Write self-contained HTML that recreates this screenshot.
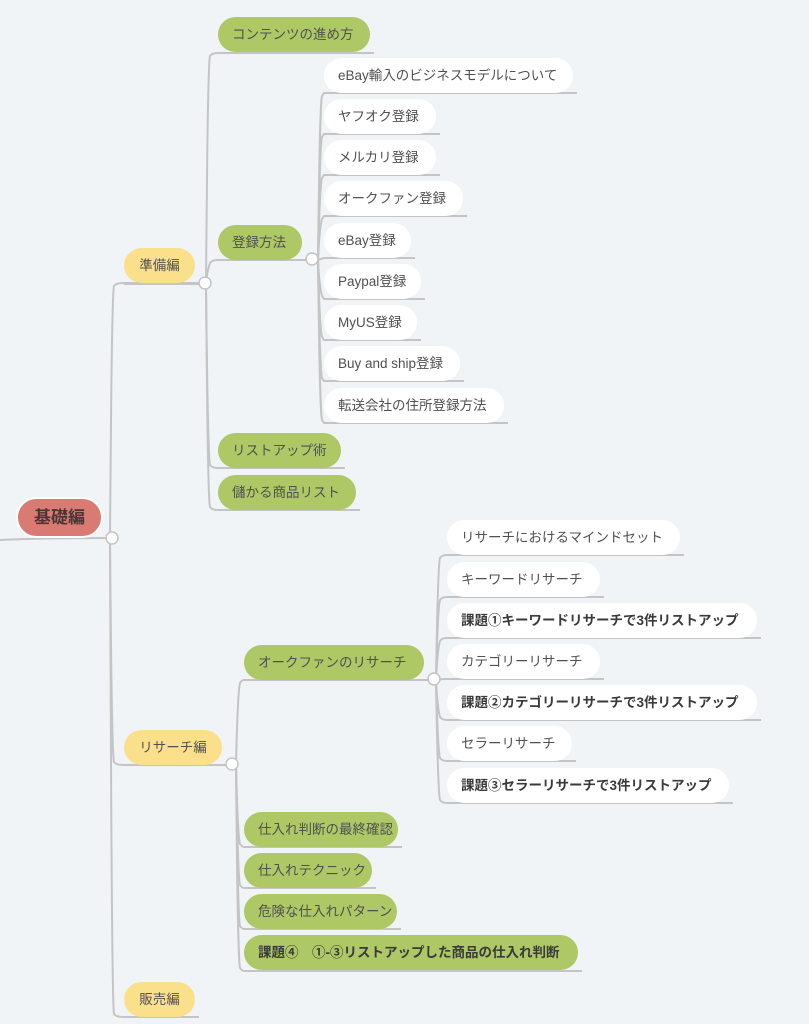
<!DOCTYPE html>
<html><head><meta charset="utf-8">
<style>
html,body{margin:0;padding:0;}
body{width:809px;height:1024px;background:#f1f4f7;position:relative;overflow:hidden;font-family:"Liberation Sans","Noto Sans CJK JP",sans-serif;}
.n{position:absolute;height:35px;line-height:35px;border-radius:18px;font-size:13.5px;color:#505050;padding-left:14px;box-sizing:border-box;white-space:nowrap;}
.g{background:#aec866;}
.y{background:#fbe08c;text-align:center;padding:0;}
.w{background:#fff;}
.b{font-weight:bold;color:#3a3a3a;}
.r{background:#d97b72;color:#4a3535;font-weight:bold;font-size:17px;text-align:center;padding:0;border:2px solid #fff;height:41px;line-height:37px;border-radius:21px;}
svg{position:absolute;left:0;top:0;}
</style></head><body>
<svg id="s" width="809" height="1024"></svg>

<div class="n r" style="left:16px;top:497px;width:87px;">基礎編</div>

<div class="n y" style="left:124px;top:248px;width:71px;">準備編</div>
<div class="n y" style="left:124px;top:730px;width:98px;">リサーチ編</div>
<div class="n y" style="left:124px;top:982px;width:71px;">販売編</div>

<div class="n g" style="left:218px;top:17px;width:152px;">コンテンツの進め方</div>
<div class="n g" style="left:218px;top:225px;width:84px;">登録方法</div>
<div class="n g" style="left:218px;top:433px;width:123px;">リストアップ術</div>
<div class="n g" style="left:218px;top:475px;width:138px;">儲かる商品リスト</div>

<div class="n w" style="left:324px;top:58px;width:249px;">eBay輸入のビジネスモデルについて</div>
<div class="n w" style="left:324px;top:99px;width:112px;">ヤフオク登録</div>
<div class="n w" style="left:324px;top:140px;width:112px;">メルカリ登録</div>
<div class="n w" style="left:324px;top:181px;width:139px;">オークファン登録</div>
<div class="n w" style="left:324px;top:223px;width:87px;">eBay登録</div>
<div class="n w" style="left:324px;top:264px;width:97px;">Paypal登録</div>
<div class="n w" style="left:324px;top:305px;width:93px;">MyUS登録</div>
<div class="n w" style="left:324px;top:346px;width:136px;">Buy and ship登録</div>
<div class="n w" style="left:324px;top:388px;width:180px;">転送会社の住所登録方法</div>

<div class="n g" style="left:244px;top:645px;width:180px;">オークファンのリサーチ</div>
<div class="n g" style="left:244px;top:812px;width:154px;">仕入れ判断の最終確認</div>
<div class="n g" style="left:244px;top:853px;width:128px;">仕入れテクニック</div>
<div class="n g" style="left:244px;top:894px;width:153px;">危険な仕入れパターン</div>
<div class="n g b" style="left:244px;top:935px;width:334px;">課題④　①-③リストアップした商品の仕入れ判断</div>

<div class="n w" style="left:447px;top:520px;width:233px;">リサーチにおけるマインドセット</div>
<div class="n w" style="left:447px;top:562px;width:153px;">キーワードリサーチ</div>
<div class="n w b" style="left:447px;top:603px;width:310px;">課題①キーワードリサーチで3件リストアップ</div>
<div class="n w" style="left:447px;top:644px;width:153px;">カテゴリーリサーチ</div>
<div class="n w b" style="left:447px;top:685px;width:310px;">課題②カテゴリーリサーチで3件リストアップ</div>
<div class="n w" style="left:447px;top:726px;width:125px;">セラーリサーチ</div>
<div class="n w b" style="left:447px;top:768px;width:282px;">課題③セラーリサーチで3件リストアップ</div>

<script>
var s=document.getElementById('s'),h='';
var C='#c4c4c4';
function p(d){h+='<path d="'+d+'" fill="none" stroke="'+C+'" stroke-width="2"/>';}
function fan(cx,cy,xl,kids){
  kids.forEach(function(k){
    var yb=k[0],xr=k[1];
    var dir=yb>cy?1:-1;
    var r=Math.min(10,Math.abs(yb-cy));
    p('M'+cx+' '+cy+' C'+(cx+1)+' '+(cy+(yb-cy)*0.5)+' '+(cx+2)+' '+(yb-dir*r)+' '+(cx+4)+' '+(yb-dir*r*0.3)+' Q'+(cx+6)+' '+yb+' '+xl+' '+yb+' L'+(xr+4)+' '+yb);
  });
}
function circ(x,y){h+='<circle cx="'+x+'" cy="'+y+'" r="6" fill="#fff" stroke="'+C+'" stroke-width="1.5"/>';}
p('M0 540 Q40 538 112 538');
fan(110,540,124,[[283,195],[765,222],[1017,195]]);
p('M124 284 L205 284');
fan(206,284,218,[[53,370],[260,302],[468,341],[510,356]]);
p('M218 260 L312 260');
fan(318,260,324,[[93,573],[134,436],[175,436],[216,463],[258,411],[299,421],[340,417],[381,460],[423,504]]);
p('M124 765 L232 765');
fan(236,765,244,[[680,424],[847,398],[888,372],[929,397],[971,578]]);
p('M244 680 L434 680');
fan(436,680,447,[[555,680],[597,600],[638,757],[679,600],[720,757],[761,572],[803,729]]);
circ(112,538);circ(205,283);circ(312,259);circ(232,764);circ(434,679);
s.innerHTML=h;
</script>
</body></html>
